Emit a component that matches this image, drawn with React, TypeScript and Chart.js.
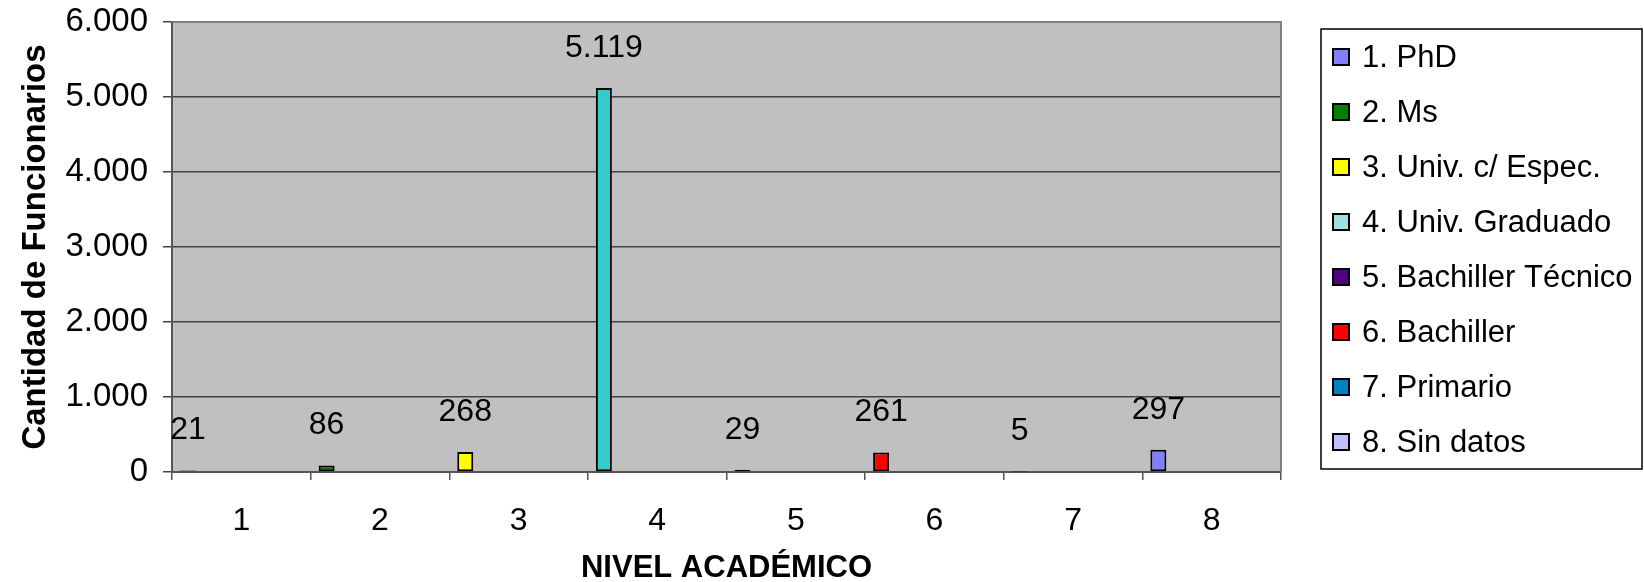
import React, { useEffect, useRef } from 'react';
import { Chart, registerables } from 'chart.js';

Chart.register(...registerables);

const categories = ['1', '2', '3', '4', '5', '6', '7', '8'];
const values = [21, 86, 268, 5119, 29, 261, 5, 297];
const legendLabels = [
  '1. PhD',
  '2. Ms',
  '3. Univ. c/ Espec.',
  '4. Univ. Graduado',
  '5. Bachiller Técnico',
  '6. Bachiller',
  '7. Primario',
  '8. Sin datos',
];
const barColors = ['#8080FF', '#008000', '#FFFF00', '#33CCCC', '#500080', '#FF0000', '#0080C0', '#8080FF'];
const legendColors = ['#8080FF', '#008000', '#FFFF00', '#A0E0E0', '#500080', '#FF0000', '#0080C0', '#C0C0FF'];
const yMin = 0;
const yMax = 6000;
const yStep = 1000;
const yTitle = 'Cantidad de Funcionarios';
const xTitle = 'NIVEL ACADÉMICO';

const FONT = '"Liberation Sans", Arial, Helvetica, sans-serif';

const fmt = (v: number) => String(v).replace(/\B(?=(\d{3})+(?!\d))/g, '.');

const plotBg = {
  id: 'plotBg',
  beforeDraw(chart: any) {
    const { ctx, chartArea: a } = chart;
    ctx.save();
    ctx.fillStyle = '#C0C0C0';
    ctx.fillRect(a.left, a.top, a.right - a.left, a.bottom - a.top);
    ctx.restore();
  },
  beforeDatasetsDraw(chart: any) {
    const { ctx, chartArea: a } = chart;
    ctx.save();
    ctx.strokeStyle = '#808080';
    ctx.lineWidth = 2;
    ctx.beginPath();
    ctx.moveTo(a.left, a.top);
    ctx.lineTo(a.right, a.top);
    ctx.lineTo(a.right, a.bottom);
    ctx.stroke();
    ctx.restore();
  },
};

const valueLabels = {
  id: 'valueLabels',
  afterDatasetsDraw(chart: any) {
    const { ctx } = chart;
    const meta = chart.getDatasetMeta(0);
    ctx.save();
    ctx.font = `32px ${FONT}`;
    ctx.fillStyle = '#000';
    ctx.textAlign = 'center';
    ctx.textBaseline = 'middle';
    meta.data.forEach((bar: any, i: number) => {
      ctx.fillText(fmt(values[i]), bar.x, bar.y - 40);
    });
    ctx.restore();
  },
};

const sideLegend = {
  id: 'sideLegend',
  afterDraw(chart: any) {
    const { ctx } = chart;
    const left = 1321;
    const top = 29;
    const right = 1642;
    const bottom = 469;
    ctx.save();
    ctx.strokeStyle = '#000';
    ctx.lineWidth = 1.5;
    ctx.strokeRect(left, top, right - left, bottom - top);
    ctx.font = `31px ${FONT}`;
    ctx.textBaseline = 'middle';
    ctx.textAlign = 'left';
    legendLabels.forEach((label, i) => {
      const cy = 57 + i * 55;
      ctx.fillStyle = legendColors[i];
      ctx.fillRect(1332, cy - 9, 18, 18);
      ctx.strokeStyle = '#000';
      ctx.lineWidth = 2;
      ctx.strokeRect(1333, cy - 8, 16, 16);
      ctx.fillStyle = '#000';
      ctx.fillText(label, 1362, cy + 1);
    });
    ctx.restore();
  },
};

export default function App() {
  const ref = useRef<HTMLCanvasElement | null>(null);

  useEffect(() => {
    document.body.style.margin = '0';
    if (!ref.current) return;
    const spacer = () => ({
      label: '',
      data: categories.map(() => null),
      backgroundColor: 'transparent',
      borderWidth: 0,
    });
    const chart = new Chart(ref.current, {
      type: 'bar',
      data: {
        labels: categories,
        datasets: [
          {
            label: 'Funcionarios',
            data: values,
            backgroundColor: barColors,
            borderColor: '#000',
            borderWidth: 2,
            borderSkipped: false,
          },
          spacer(),
          spacer(),
          spacer(),
          spacer(),
        ] as any,
      },
      options: {
        responsive: false,
        animation: false,
        devicePixelRatio: 1,
        datasets: {
          bar: {
            categoryPercentage: 0.9615,
            barPercentage: 0.6,
          },
        },
        layout: { padding: { top: 22, right: 363, left: 0, bottom: 0 } },
        plugins: {
          legend: { display: false },
          tooltip: { enabled: false },
        },
        scales: {
          x: {
            offset: true,
            grid: {
              offset: true,
              drawOnChartArea: false,
              drawTicks: true,
              tickLength: 8,
              color: '#555',
              lineWidth: 1.5,
            },
            border: { display: true, color: '#555', width: 2 },
            ticks: {
              color: '#000',
              font: { family: FONT, size: 32 },
              padding: 22,
            },
            title: {
              display: true,
              text: xTitle,
              color: '#000',
              font: { family: FONT, size: 31, weight: 'bold', lineHeight: 0.9 },
              padding: { top: 0, bottom: 0 },
            },
            afterFit: (s: any) => {
              s.height = 110;
              s.paddingLeft = 0;
              s.paddingRight = 0;
            },
          },
          y: {
            min: yMin,
            max: yMax,
            grid: {
              color: '#444',
              lineWidth: 1.5,
              drawTicks: true,
              tickLength: 9,
            },
            border: { display: true, color: '#555', width: 2 },
            ticks: {
              stepSize: yStep,
              color: '#000',
              font: { family: FONT, size: 33 },
              padding: 15,
              callback: (v: any) => fmt(Number(v)),
            },
            title: {
              display: true,
              text: yTitle,
              color: '#000',
              font: { family: FONT, size: 33, weight: 'bold' },
              padding: { top: 16, bottom: 0 },
            },
            afterFit: (s: any) => {
              s.width = 172;
              s.paddingTop = 0;
              s.paddingBottom = 0;
            },
          },
        },
      } as any,
      plugins: [plotBg, valueLabels, sideLegend],
    });
    return () => chart.destroy();
  }, []);

  return (
    <div style={{ width: 1644, height: 582 }}>
      <canvas ref={ref} width={1644} height={582} style={{ display: 'block' }} />
    </div>
  );
}
